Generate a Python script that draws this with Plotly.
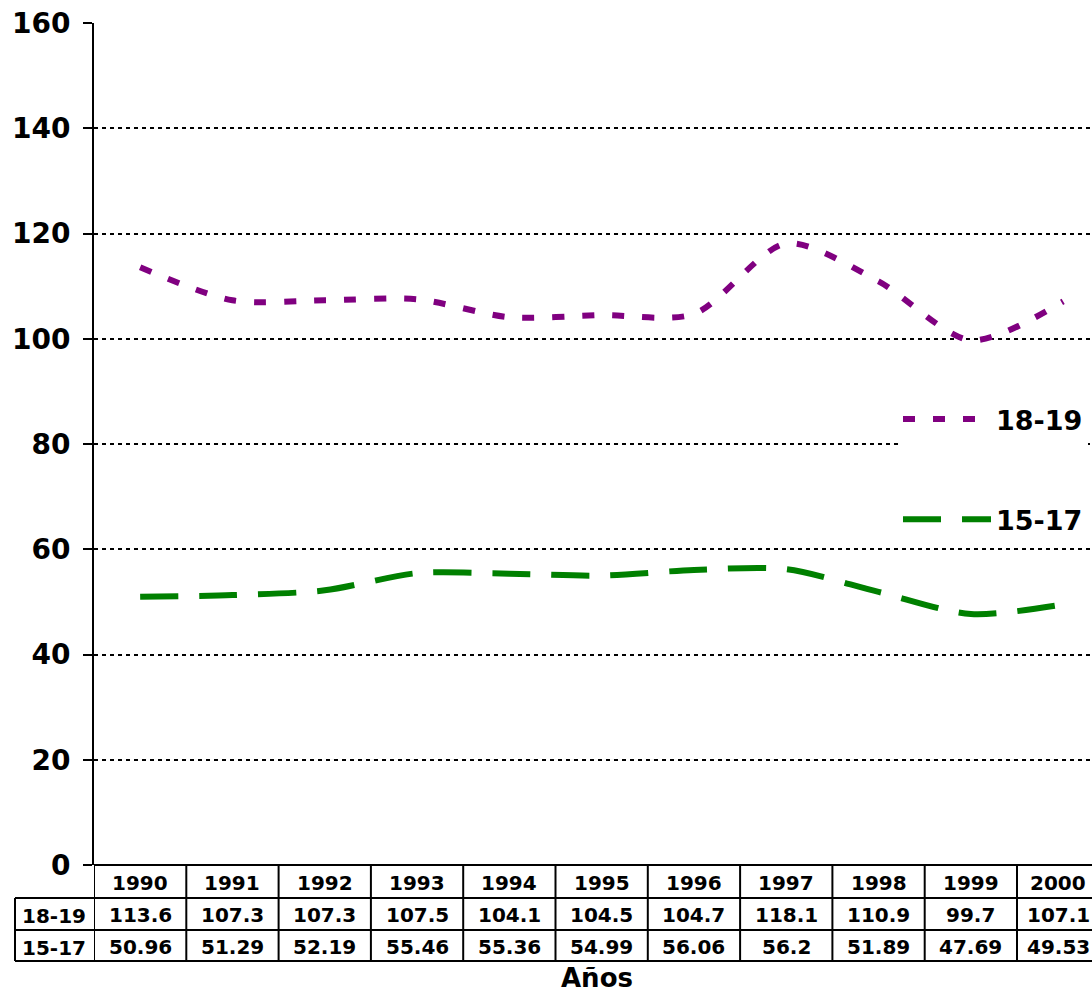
import plotly.graph_objects as go

years = ['1990', '1991', '1992', '1993', '1994', '1995', '1996', '1997', '1998', '1999', '2000']
rate_18_19 = [113.6, 107.3, 107.3, 107.5, 104.1, 104.5, 104.7, 118.1, 110.9, 99.7, 107.1]
rate_15_17 = [50.96, 51.29, 52.19, 55.46, 55.36, 54.99, 56.06, 56.2, 51.89, 47.69, 49.53]
series_names = ['18-19', '15-17']
y_ticks = [0, 20, 40, 60, 80, 100, 120, 140, 160]

W, H = 1092, 995
L, T, B = 94, 23, 130
COL_W = 92.3  # width of one year column; the last one runs past the right edge
plot_h = H - T - B
plot_w = W - L


def py(p):
    # pixel row -> paper y
    return (H - B - p) / plot_h


def px(p):
    # pixel column -> paper x
    return (p - L) / plot_w


FONT = 'DejaVu Sans'

fig = go.Figure()
fig.add_trace(go.Scatter(
    x=years, y=rate_18_19, name='<b>%s</b>' % series_names[0], mode='lines',
    line=dict(color='#800080', width=6, dash='12px,18px', shape='spline', smoothing=0.8),
    legendgroup='a',
))
fig.add_trace(go.Scatter(
    x=years, y=rate_15_17, name='<b>%s</b>' % series_names[1], mode='lines',
    line=dict(color='#008000', width=6, dash='38px,21px', shape='spline', smoothing=0.8),
    legendgroup='b',
))

# table under the plot
shapes = []
row_edges = [865, 898, 930, 961]
shapes.append(dict(type='line', xref='paper', yref='paper', x0=0, x1=1.02,
                   y0=py(row_edges[0]), y1=py(row_edges[0]), line=dict(color='black', width=2)))
for r in row_edges[1:]:
    shapes.append(dict(type='line', xref='paper', yref='paper', x0=px(15), x1=1.02,
                       y0=py(r), y1=py(r), line=dict(color='black', width=2)))
for i in range(len(years)):
    shapes.append(dict(type='line', xref='x', yref='paper', x0=i - 0.5, x1=i - 0.5,
                       y0=py(row_edges[0]), y1=py(row_edges[-1]), line=dict(color='black', width=2)))
shapes.append(dict(type='line', xref='paper', yref='paper', x0=px(15), x1=px(15),
                   y0=py(row_edges[1]), y1=py(row_edges[-1]), line=dict(color='black', width=2)))

annotations = []
cell_font = dict(family=FONT, size=20, color='black')
row_mid = [(row_edges[k] + row_edges[k + 1]) / 2 + 1 for k in range(3)]
rows = [years, rate_18_19, rate_15_17]
for i in range(len(years)):
    # the last column is cut by the window edge, nudge its text inside
    shift = -5 if i == len(years) - 1 else 0
    for k, row in enumerate(rows):
        annotations.append(dict(x=i, y=py(row_mid[k]), xref='x', yref='paper',
                                text='<b>%s</b>' % row[i], showarrow=False, font=cell_font,
                                xanchor='center', yanchor='middle', xshift=shift))
for k, name in enumerate(series_names):
    annotations.append(dict(x=px(54), y=py(row_mid[k + 1] + 1), xref='paper', yref='paper',
                            text='<b>%s</b>' % name, showarrow=False, font=cell_font,
                            xanchor='center', yanchor='middle'))
annotations.append(dict(x=px(597), y=py(978), xref='paper', yref='paper', text='<b>Años</b>',
                        showarrow=False, font=dict(family=FONT, size=26, color='black'),
                        xanchor='center', yanchor='middle'))

fig.update_layout(
    width=W, height=H,
    margin=dict(l=L, r=0, t=T, b=B, pad=0),
    paper_bgcolor='white', plot_bgcolor='white',
    font=dict(family=FONT, color='black'),
    showlegend=True,
    legend=dict(
        x=px(898), y=py(395), xanchor='left', yanchor='top',
        bgcolor='white', borderwidth=0,
        font=dict(family=FONT, size=27, color='black'),
        itemwidth=88, tracegroupgap=62, traceorder='grouped',
    ),
    xaxis=dict(
        type='category', range=[-0.5, -0.5 + plot_w / COL_W],
        showticklabels=False, ticks='', showgrid=False, zeroline=False,
        showline=False,
    ),
    yaxis=dict(
        range=[0, 160], tickvals=y_ticks, ticktext=['<b>%d</b>' % v for v in y_ticks],
        tickfont=dict(family=FONT, size=28, color='black'),
        ticks='outside', ticklen=9, tickwidth=2, tickcolor='black',
        showline=True, linecolor='black', linewidth=2,
        showgrid=True, gridcolor='black', gridwidth=2, griddash='4px,4px',
        zeroline=False, ticklabelstandoff=7, ticklabeloverflow='allow',
    ),
    shapes=shapes,
    annotations=annotations,
)

# drop the default 8px page margin so the figure fills the window exactly
fig.write_html('out.html', config={'displayModeBar': False},
               post_script="document.body.style.margin='0';")
